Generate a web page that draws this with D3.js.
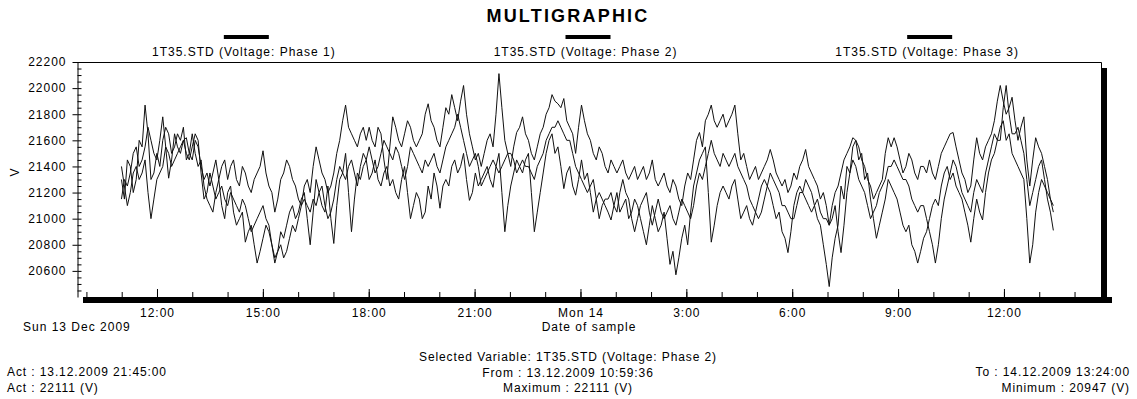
<!DOCTYPE html>
<html><head><meta charset="utf-8">
<script src="https://cdn.jsdelivr.net/npm/d3@7"></script>
<style>
body{margin:0;background:#fff}
text{font-family:"Liberation Sans",Arial,sans-serif;fill:#000}
</style>
</head><body>
<svg id="c" width="1137" height="399"></svg>
<script>
// ---------------- data ----------------
const chartTitle = "MULTIGRAPHIC";
const seriesNames = ["1T35.STD (Voltage: Phase 1)", "1T35.STD (Voltage: Phase 2)", "1T35.STD (Voltage: Phase 3)"];
const startTime = "2009-12-13T10:59:36";
const endTime = "2009-12-14T13:24:00";
// one value about every 5 minutes, one row per hour (11:00 Sun ... 13:24 Mon)
const phase1 = [
21300,21150,21450,21400,21200,21300,21600,21550,21870,21650,21300,21350,
21500,21400,21600,21700,21650,21500,21550,21650,21600,21700,21450,21500,
21650,21500,21400,21450,21250,21150,21100,21050,21200,21300,21100,21000,
21200,21250,21050,20950,21000,21050,20820,20900,20950,20800,20660,20750,
20850,20950,20900,20800,20700,20750,20900,20850,20950,21050,21100,21000,
21050,21150,21200,21000,20800,21050,21300,21200,21100,21050,21250,21000,
20810,21100,21300,21350,21500,21200,20900,21150,21350,21300,21400,21450,
21300,21350,21450,21300,21250,21350,21400,21250,21300,21200,21150,21300,
21400,21200,21000,21100,21200,21150,21000,21050,21250,21150,21350,21250,
21080,21250,21300,21250,21400,21450,21350,21400,21500,21300,21140,21200,
21350,21250,21300,21350,21400,21300,21240,21400,21500,21200,20900,21100,
21250,21350,21450,21400,21350,21450,21500,21200,20900,21050,21200,21350,
21500,21600,21650,21500,21550,21400,21230,21350,21400,21250,21180,21300,
21450,21300,21350,21200,21050,21150,21200,21150,21100,21050,20990,21100,
21200,21050,21100,21150,21000,21050,21150,21100,21000,20900,20800,20950,
21100,21000,20900,20950,21050,20850,20650,20750,20570,20700,20850,20950,
20800,21050,21250,21350,21450,21500,21550,21200,20820,20950,21100,21200,
21250,21200,21150,21250,21300,21150,21000,21050,21100,21000,20950,21050,
21150,21250,21300,21250,21200,21100,21000,21050,20900,20850,20740,20900,
21100,21200,21250,21200,21300,21250,21200,21100,21000,20950,20800,20650,
20480,20700,20850,20950,21250,21150,21400,21350,21550,21600,21450,21500,
21300,21350,21150,21000,20850,20950,21050,21150,21300,21250,21200,21150,
21050,20950,20900,20950,20800,20750,20660,20750,20850,20900,21000,21100,
21150,21100,21250,21350,21400,21300,21350,21250,21200,21150,21050,20950,
20820,21000,21150,21050,20990,21200,21350,21450,21500,21600,21700,21750,
21600,21650,21500,21450,21400,21350,21300,21000,20660,20800,21050,21200,
21300,21250,21200,21150,21100];
const phase2 = [
21150,21300,21250,21350,21500,21550,21400,21450,21550,21700,21600,21500,
21450,21600,21780,21550,21310,21450,21650,21550,21500,21600,21620,21500,
21450,21600,21550,21400,21300,21350,21250,21350,21450,21300,21400,21450,
21300,21400,21450,21300,21250,21400,21350,21250,21200,21300,21350,21400,
21520,21350,21250,21200,21050,21150,21300,21350,21450,21400,21300,21250,
21150,21100,21250,21300,21200,21400,21550,21450,21350,21300,21200,21250,
21350,21500,21600,21750,21870,21700,21650,21600,21550,21650,21700,21600,
21700,21600,21550,21700,21650,21450,21300,21550,21780,21700,21600,21550,
21650,21750,21700,21600,21550,21600,21650,21800,21880,21750,21700,21600,
21550,21700,21850,21800,21950,21850,21750,21900,22020,21800,21650,21550,
21450,21500,21400,21500,21600,21650,21550,21800,22111,21850,21600,21500,
21400,21550,21660,21700,21780,21650,21600,21500,21450,21550,21650,21700,
21800,21850,21950,21900,21880,21850,21920,21750,21700,21650,21500,21700,
21870,21750,21650,21600,21500,21450,21550,21500,21400,21350,21450,21400,
21350,21400,21450,21350,21300,21350,21400,21300,21350,21400,21300,21350,
21450,21300,21250,21300,21350,21250,21200,21300,21250,21150,21100,21250,
21350,21300,21450,21600,21660,21550,21750,21800,21870,21750,21700,21750,
21800,21700,21750,21800,21870,21650,21450,21500,21400,21300,21350,21400,
21300,21350,21400,21450,21530,21450,21350,21300,21250,21300,21200,21250,
21350,21300,21400,21450,21530,21400,21350,21300,21250,21150,21200,21100,
20950,21100,21200,21250,21350,21450,21500,21550,21620,21600,21550,21450,
21400,21300,21250,21150,21200,21250,21300,21500,21620,21550,21620,21550,
21450,21350,21400,21500,21450,21350,21300,21400,21400,21350,21450,21350,
21300,21400,21500,21550,21600,21650,21660,21550,21450,21350,21300,21200,
21250,21450,21620,21500,21450,21550,21600,21650,21750,21900,22020,21900,
21800,21850,21930,21750,21600,21700,21780,21450,21250,21450,21620,21550,
21500,21400,21300,21150,21050];
const phase3 = [
21400,21250,21100,21200,21350,21400,21300,21350,21450,21200,21000,21150,
21300,21350,21400,21550,21500,21400,21450,21500,21550,21600,21500,21450,
21550,21650,21600,21350,21150,21200,21350,21250,21150,21200,21250,21150,
21100,21200,21150,21100,21050,21150,21100,21000,20900,20950,21000,21050,
21100,21000,20950,20800,20660,20750,20800,20700,20750,20850,20950,20900,
21000,21100,21150,21100,21050,21150,21100,21200,21250,21100,21000,21050,
21150,21300,21400,21350,21300,21400,21450,21350,21250,21400,21500,21450,
21550,21450,21350,21400,21500,21600,21550,21500,21450,21550,21500,21400,
21300,21400,21550,21500,21450,21400,21350,21450,21400,21450,21500,21400,
21350,21450,21550,21600,21650,21700,21800,21700,21600,21500,21400,21450,
21500,21400,21250,21300,21350,21400,21450,21400,21350,21400,21450,21500,
21500,21450,21350,21400,21450,21400,21400,21350,21300,21400,21450,21500,
21600,21650,21700,21700,21750,21700,21650,21600,21600,21500,21400,21350,
21300,21250,21200,21250,21300,21150,21000,21100,21150,21150,21200,21100,
21050,21200,21300,21200,21150,21000,20900,21000,21100,21150,21200,21050,
20950,21050,21150,21050,21000,21050,21100,21000,20950,21050,21150,21100,
21050,21000,21100,21250,21350,21300,21400,21500,21600,21500,21450,21400,
21500,21450,21400,21450,21500,21400,21350,21300,21250,21150,21100,21050,
21000,21050,21150,21250,21350,21300,21250,21200,21100,21100,21050,21000,
21000,21100,21200,21200,21150,21100,21050,21100,21150,21050,21000,21000,
20950,21000,21100,20900,20740,20950,21200,21350,21450,21400,21300,21250,
21200,21100,21000,21050,21100,21200,21250,21300,21400,21400,21450,21400,
21350,21300,21300,21250,21150,21100,21050,21100,21100,21000,20900,20800,
20660,20800,21000,21150,21250,21350,21450,21400,21300,21200,21150,21100,
21050,21200,21300,21250,21200,21350,21450,21550,21650,21600,21600,21850,
22020,21800,21650,21650,21700,21600,21500,21300,21100,21200,21300,21400,
21450,21300,21150,21050,20910];
const yTickValues = [20600,20800,21000,21200,21400,21600,21800,22000,22200];
const xTickLabels = ["12:00","15:00","18:00","21:00","Mon 14","3:00","6:00","9:00","12:00"];
const xStartLabel = "Sun 13 Dec 2009";
const xAxisTitle = "Date of sample";
const yAxisTitle = "V";
const footLeft = ["Act : 13.12.2009 21:45:00", "Act : 22111 (V)"];
const footCenter = ["Selected Variable: 1T35.STD (Voltage: Phase 2)", "From : 13.12.2009 10:59:36", "Maximum : 22111 (V)"];
const footRight = ["To : 14.12.2009 13:24:00", "Minimum : 20947 (V)"];

// ---------------- drawing ----------------
const svg = d3.select("#c");
svg.append("rect").attr("width",1137).attr("height",399).attr("fill","#fff");
const L=77, R=1101, T=62, B=297;
const x = d3.scaleTime()
  .domain([new Date("2009-12-13T09:44:00"), new Date("2009-12-14T14:45:00")])
  .range([L,R]);
const y = d3.scaleLinear().domain([20400,22200]).range([B,T]);
const t0 = new Date(startTime), t1 = new Date(endTime);

// shadow
svg.append("rect").attr("x",R+1).attr("y",T+6).attr("width",5).attr("height",B-T).attr("fill","#000");
svg.append("rect").attr("x",L+6).attr("y",B).attr("width",R-L+5).attr("height",6).attr("fill","#000");
// frame top/right
svg.append("path").attr("d",`M${L},${T+0.5}H${R+0.5}V${B}`).attr("fill","none").attr("stroke","#000");

// y axis
const gy = svg.append("g").attr("transform",`translate(${L+0.5},0)`);
gy.call(d3.axisLeft(y).tickValues(yTickValues).tickFormat(d3.format("d")).tickSizeInner(5).tickSizeOuter(0).tickPadding(6));
gy.selectAll("text").style("font-size","12px").style("letter-spacing","1px").attr("fill","#000");
gy.selectAll("line").attr("stroke","#000");
gy.select(".domain").attr("stroke","#000");
const gyMinor = svg.append("g").attr("transform",`translate(${L+0.5},0)`);
gyMinor.call(d3.axisRight(y).tickValues(d3.range(20450,22201,50)).tickSize(4).tickFormat(""));
gyMinor.select(".domain").remove();
gyMinor.selectAll("line").attr("stroke","#000");

// x axis ticks (upward from bar)
const hours = d3.timeHour.range(x.domain()[0], x.domain()[1]);
const majors = hours.filter(d => d.getHours() % 3 === 0);
const gxMinor = svg.append("g").attr("transform",`translate(0,${B})`);
gxMinor.call(d3.axisTop(x).tickValues(hours).tickSize(5).tickFormat(""));
gxMinor.select(".domain").remove();
gxMinor.selectAll("line").attr("stroke","#000");
const gxMajor = svg.append("g").attr("transform",`translate(0,${B})`);
gxMajor.call(d3.axisTop(x).tickValues(majors).tickSize(8).tickFormat(""));
gxMajor.select(".domain").remove();
gxMajor.selectAll("line").attr("stroke","#000");
const gxLab = svg.append("g").attr("transform",`translate(0,${B+6})`);
gxLab.call(d3.axisBottom(x).tickValues(majors).tickSize(0).tickPadding(5.5).tickFormat((d,i)=>xTickLabels[i]));
gxLab.select(".domain").remove();
gxLab.selectAll("text").style("font-size","12px").style("letter-spacing","1px").attr("fill","#000");

svg.append("text").attr("x",23).attr("y",331).style("font-size","12px").style("letter-spacing","1px").text(xStartLabel);
svg.append("text").attr("x",(L+R)/2).attr("y",331).attr("text-anchor","middle").style("font-size","12px").style("letter-spacing","1px").text(xAxisTitle);
svg.append("text").attr("transform",`translate(19,172) rotate(-90)`).attr("text-anchor","middle").style("font-size","12px").style("letter-spacing","1px").text(yAxisTitle);

// series
const series = [phase1, phase2, phase3];
const line = d3.line()
  .x((d,i,arr)=>x(new Date(+t0 + (t1-t0)*i/(arr.length-1))))
  .y(d=>y(d));
svg.append("g").selectAll("path").data(series).join("path")
  .attr("d", d=>line(d)).attr("fill","none").attr("stroke","#111").attr("stroke-width",1);

// title + legend
svg.append("text").attr("x",568).attr("y",21.5).attr("text-anchor","middle")
  .style("font-size","18px").style("font-weight","bold").style("letter-spacing","2.2px").text(chartTitle);
const lg = d3.scaleBand().domain(seriesNames).range([75,1100]);
const li = svg.append("g").selectAll("g").data(seriesNames).join("g")
  .attr("transform", d=>`translate(${lg(d)+lg.bandwidth()/2},0)`);
li.append("rect").attr("x",-22).attr("y",35).attr("width",45).attr("height",4).attr("fill","#000");
li.append("text").attr("x",-2).attr("y",56).attr("text-anchor","middle").style("font-size","12px").style("letter-spacing","1px").text(d=>d);

// footer
const fs = (sel)=>sel.style("font-size","12px").style("letter-spacing","0.9px");
footLeft.forEach((s,i)=>fs(svg.append("text").attr("x",7).attr("y",376+i*15.5).text(s)));
footCenter.forEach((s,i)=>fs(svg.append("text").attr("x",568).attr("y",361+i*15.5).attr("text-anchor","middle").text(s)));
footRight.forEach((s,i)=>fs(svg.append("text").attr("x",1130).attr("y",376+i*15.5).attr("text-anchor","end").text(s)));
</script>
</body></html>
